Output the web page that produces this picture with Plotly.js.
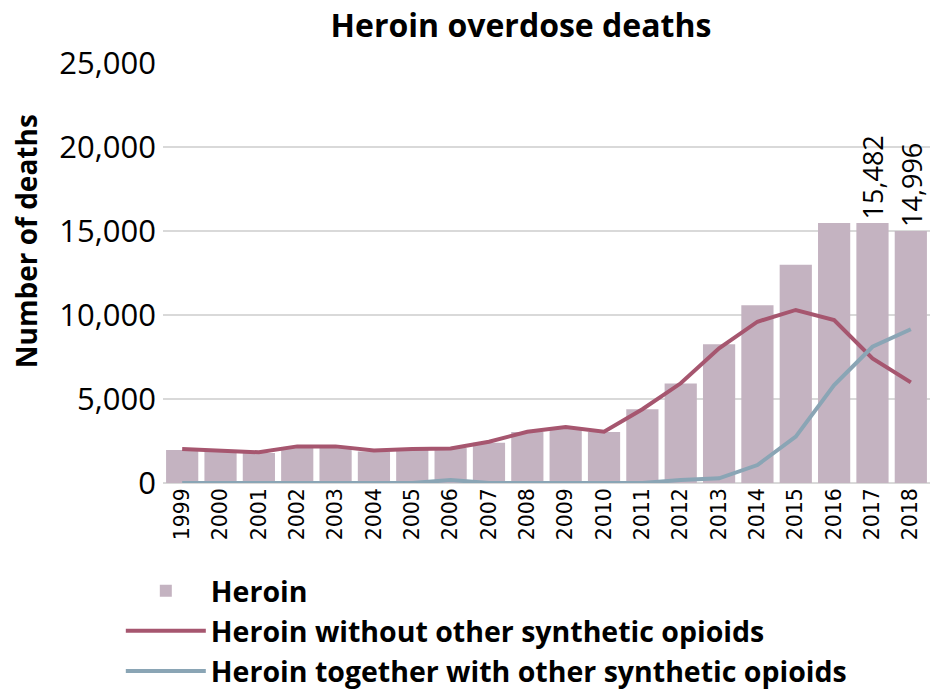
<!DOCTYPE html>
<html>
<head>
<meta charset="utf-8">
<script src="https://cdn.plot.ly/plotly-3.0.1.min.js"></script>
<style>html,body{margin:0;padding:0;background:#fff;}#chart{width:932px;height:690px;}</style>
</head>
<body>
<div id="chart"></div>
<script>
const years = ['1999','2000','2001','2002','2003','2004','2005','2006','2007','2008','2009','2010','2011','2012','2013','2014','2015','2016','2017','2018'];
const heroin = [1960,1842,1779,2089,2080,1878,2009,2088,2399,3041,3278,3036,4397,5925,8257,10574,12989,15469,15482,14996];
const heroinWithout = [2020,1925,1830,2180,2180,1930,2020,2050,2460,3050,3330,3050,4390,5935,8020,9600,10300,9700,7420,5990];
const heroinWith = [0,0,0,0,0,0,0,180,0,0,0,0,0,180,280,1070,2760,5830,8110,9150];
const labelledYears = ['2017','2018'];
const yTitle = 'Number of deaths';

const fontMain = '"Open Sans", Lato, sans-serif';

const traces = [
  {type:'bar', name:'Heroin', x:years, y:heroin, marker:{color:'#c4b3c1'}},
  {type:'scatter', mode:'lines', name:'Heroin without other synthetic opioids', x:years, y:heroinWithout,
   line:{color:'#a6566f', width:4}},
  {type:'scatter', mode:'lines', name:'Heroin together with other synthetic opioids', x:years, y:heroinWith,
   line:{color:'#8aa5b5', width:4}}
];

const annotations = labelledYears.map(yr => {
  const i = years.indexOf(yr);
  const v = heroin[i];
  return {x:i, y:v, xref:'x', yref:'y', text:v.toLocaleString('en-US'), showarrow:false,
    textangle:-90, yanchor:'bottom', xanchor:'center', yshift:2,
    font:{family:fontMain, size:27, color:'#000'}};
});
annotations.push({text:yTitle, xref:'paper', yref:'paper', x:-0.179, xanchor:'center', y:0.575, yanchor:'middle',
  textangle:-90, showarrow:false, font:{family:fontMain, size:28, color:'#000', weight:'bold'}});

const layout = {
  width:932, height:690,
  margin:{l:163, r:2, t:63, b:207, autoexpand:false},
  paper_bgcolor:'#fff', plot_bgcolor:'#fff',
  title:{text:'Heroin overdose deaths', font:{family:fontMain, size:32, color:'#000', weight:'bold'}, x:0.559, xanchor:'center', y:0.963, yanchor:'middle'},
  bargap:0.16,
  annotations: annotations,
  xaxis:{type:'category', tickangle:-90, tickfont:{family:'"DejaVu Sans", Verdana, sans-serif', size:20.5, color:'#000'},
    showgrid:false, showline:false, ticks:'', zeroline:false, automargin:false, range:[-0.5, 19.5]},
  yaxis:{range:[0,25000], dtick:5000, tickformat:',d', gridcolor:'#d9d9d9', gridwidth:1.5, automargin:false,
    tickfont:{family:fontMain, size:31, color:'#000'}, ticklabelstandoff:6, zeroline:true, zerolinecolor:'#d9d9d9', zerolinewidth:1.5},
  showlegend:true,
  legend:{orientation:'v', x:-0.055, xanchor:'left', yref:'container', y:0.18, yanchor:'top',
    font:{family:fontMain, size:28.5, color:'#000', weight:'bold'},
    itemwidth:80, tracegroupgap:0, bgcolor:'rgba(0,0,0,0)', traceorder:'normal'}
};

Plotly.newPlot('chart', traces, layout, {displayModeBar:false, staticPlot:true});
</script>
</body>
</html>
